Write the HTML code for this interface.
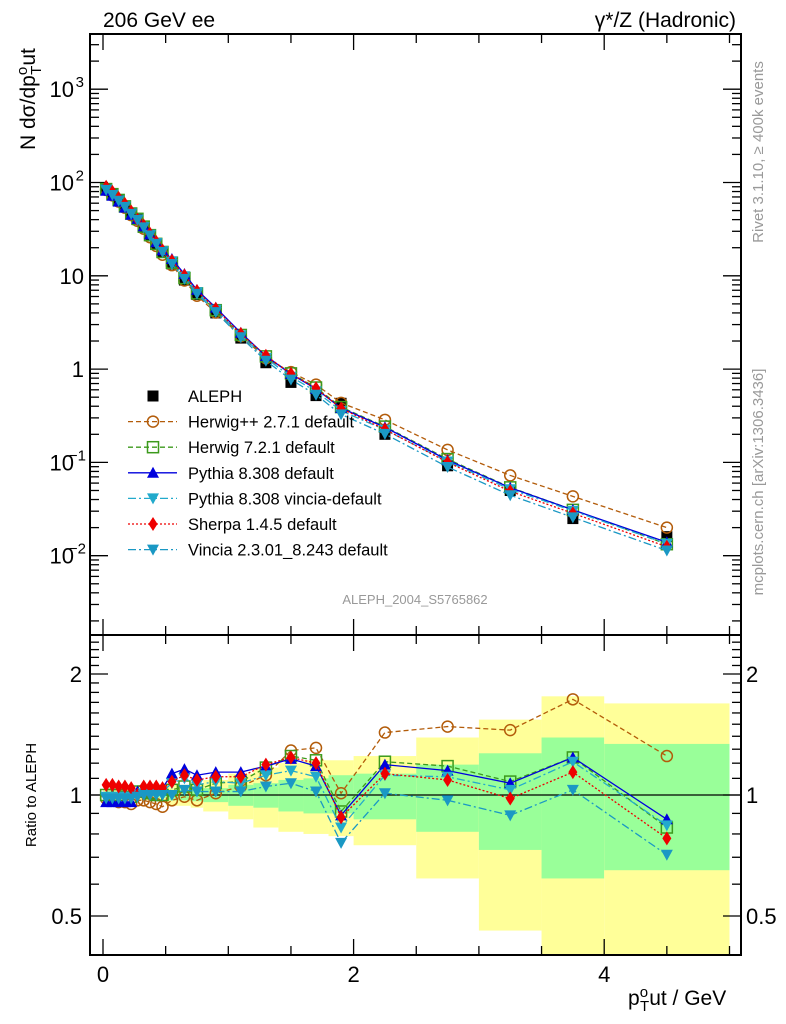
<!DOCTYPE html>
<html><head><meta charset="utf-8"><style>
body{margin:0;background:#fff;}
svg{display:block;font-family:"Liberation Sans",sans-serif;}
</style></head><body>
<svg id="c" width="786" height="1024" xmlns="http://www.w3.org/2000/svg"></svg>
<script>
const xs=[0.025,0.075,0.125,0.175,0.225,0.275,0.325,0.375,0.425,0.475,0.55,0.65,0.75,0.9,1.1,1.3,1.5,1.7,1.9,2.25,2.75,3.25,3.75,4.5];
const aleph=[85,75,65,56,47,40,33,27,22,18,13.4,9,6.3,4.0,2.15,1.17,0.72,0.52,0.43,0.2,0.092,0.05,0.025,0.016];
const rHerwigPP=[0.98,0.97,0.96,0.96,0.95,0.97,0.97,0.96,0.95,0.935,0.97,0.99,0.97,1.01,1.05,1.12,1.29,1.31,1.01,1.43,1.48,1.45,1.73,1.25];
const rHerwig7=[1.0,1.0,1.0,0.99,0.99,1.02,1.02,1.01,1.0,1.0,1.03,1.05,1.03,1.07,1.08,1.17,1.25,1.22,0.91,1.21,1.18,1.08,1.24,0.83];
const rPythia=[0.96,0.96,0.96,0.96,0.96,1.02,1.03,1.03,1.04,1.04,1.13,1.16,1.12,1.14,1.14,1.18,1.23,1.18,0.89,1.19,1.15,1.07,1.24,0.87];
const rPyVincia=[0.99,0.99,0.99,0.99,0.99,1.0,1.01,1.02,1.02,1.02,1.07,1.1,1.06,1.08,1.07,1.12,1.15,1.11,0.83,1.12,1.11,1.03,1.21,0.84];
const rSherpa=[1.06,1.06,1.05,1.05,1.04,1.0,1.05,1.05,1.05,1.04,1.08,1.12,1.09,1.11,1.11,1.19,1.24,1.2,0.88,1.13,1.09,0.98,1.14,0.78];
const rVincia=[0.98,0.98,0.98,0.98,0.98,0.99,1.0,1.0,1.0,1.0,1.0,1.03,1.02,1.02,1.02,1.05,1.07,1.02,0.76,1.01,0.97,0.89,1.03,0.71];
const binEdges=[0,0.5,0.6,0.7,0.8,1.0,1.2,1.4,1.6,1.8,2.0,2.5,3.0,3.5,4.0,5.0];
const yelLo=[0.97,0.94,0.94,0.93,0.91,0.87,0.83,0.81,0.80,0.79,0.75,0.62,0.46,0.3,0.3];
const yelHi=[1.03,1.06,1.06,1.07,1.09,1.13,1.17,1.2,1.22,1.22,1.25,1.39,1.54,1.76,1.69];
const grnLo=[0.985,0.97,0.97,0.965,0.96,0.94,0.93,0.91,0.9,0.9,0.87,0.81,0.73,0.62,0.65];
const grnHi=[1.015,1.03,1.03,1.035,1.04,1.06,1.07,1.09,1.1,1.12,1.13,1.19,1.27,1.39,1.34];
const legendLabels=["ALEPH","Herwig++ 2.7.1 default","Herwig 7.2.1 default","Pythia 8.308 default","Pythia 8.308 vincia-default","Sherpa 1.4.5 default","Vincia 2.3.01_8.243 default"];

const NS="http://www.w3.org/2000/svg",svg=document.getElementById('c');
function el(t,a,p){const e=document.createElementNS(NS,t);for(const k in a)e.setAttribute(k,a[k]);(p||svg).appendChild(e);return e;}
const L=90,R=741,T=34,M=635,B=955;
const X=v=>103+v*125.3;
const YM=v=>182.5-(Math.log10(v)-2)*93.3;
const YR=v=>795-Math.log2(v)*121;
for(let i=0;i<yelLo.length;i++){
 const x0=X(binEdges[i]),x1=X(binEdges[i+1]);
 const y=el('rect',{x:x0,y:YR(yelHi[i]),width:x1-x0,height:Math.min(B,YR(yelLo[i]))-YR(yelHi[i]),fill:'#ffff99'});
 
 
 const g=el('rect',{x:x0,y:YR(grnHi[i]),width:x1-x0,height:YR(grnLo[i])-YR(grnHi[i]),fill:'#99ff99'});
 
 
}
el('line',{x1:L,x2:R,y1:YR(1),y2:YR(1),stroke:'#000','stroke-width':1.3});
el('rect',{x:L,y:T,width:R-L,height:M-T,fill:'none',stroke:'#000','stroke-width':2});
el('rect',{x:L,y:M,width:R-L,height:B-M,fill:'none',stroke:'#000','stroke-width':2});
for(let v=0;v<=5.001;v+=0.5){
 const x=X(v),big=Math.abs(v-Math.round(v/2)*2)<1e-6;const h=big?16:9;
 [[T,1],[M,-1],[M,1],[B,-1]].forEach(([y,d])=>el('line',{x1:x,x2:x,y1:y,y2:y+d*h,stroke:'#000','stroke-width':1.3}));
}
['0','2','4'].forEach((t,i)=>{const e=el('text',{x:X(i*2),y:982,'font-size':22,'text-anchor':'middle'});e.textContent=t;
 });
for(let d=-3;d<=3;d++)for(let m=1;m<10;m++){const v=m*Math.pow(10,d);const y=YM(v);if(y<T||y>M)continue;const h=m==1?18:9;
 el('line',{x1:L,x2:L+h,y1:y,y2:y,stroke:'#000','stroke-width':1.3});el('line',{x1:R,x2:R-h,y1:y,y2:y,stroke:'#000','stroke-width':1.3});}
const ml=[[1000,'10','3'],[100,'10','2'],[10,'10',''],[1,'1',''],[0.1,'10','−1'],[0.01,'10','−2']];
ml.forEach(([v,b,s])=>{const e=el('text',{x:s?74:84,y:YM(v)+8,'font-size':22,'text-anchor':'end'});e.textContent=b;
 
 if(s){const t=el('text',{x:s.length>1?86:84,y:YM(v)-2,'font-size':15,'text-anchor':'end'});t.textContent=s;}});
[0.4,0.5,0.6,0.7,0.8,0.9,1,1.1,1.2,1.3,1.4,1.5,1.6,1.7,1.8,1.9,2,2.1,2.2,2.3,2.4,2.5].forEach(v=>{const y=YR(v);if(y<M||y>B)return;
 const big=[0.5,1,2].includes(v);const h=big?18:9;
 el('line',{x1:L,x2:L+h,y1:y,y2:y,stroke:'#000','stroke-width':1.3});el('line',{x1:R,x2:R-h,y1:y,y2:y,stroke:'#000','stroke-width':1.3});});
[[2,'2'],[1,'1'],[0.5,'0.5']].forEach(([v,t])=>{const e=el('text',{x:82,y:YR(v)+8,'font-size':22,'text-anchor':'end'});e.textContent=t;
 
 const f=el('text',{x:746,y:YR(v)+8,'font-size':22});f.textContent=t;});
function marker(kind,x,y,col,g){
 if(kind=='sq')return el('rect',{x:x-5.5,y:y-5.5,width:11,height:11,fill:'#000'},g);
 if(kind=='circ')return el('circle',{cx:x,cy:y,r:5.5,fill:'none',stroke:col,'stroke-width':1.5},g);
 if(kind=='osq')return el('rect',{x:x-5.5,y:y-5.5,width:11,height:11,fill:'none',stroke:col,'stroke-width':1.5},g);
 if(kind=='up')return el('polygon',{points:`${x-6},${y+5} ${x+6},${y+5} ${x},${y-6}`,fill:col},g);
 if(kind=='dn')return el('polygon',{points:`${x-6},${y-5} ${x+6},${y-5} ${x},${y+6}`,fill:col},g);
 if(kind=='dia')return el('polygon',{points:`${x},${y-7} ${x+4.5},${y} ${x},${y+7} ${x-4.5},${y}`,fill:col},g);
}
const ga=el('g',{});
xs.forEach((x,i)=>{const a=marker('sq',X(x),YM(aleph[i]),'#000',ga);});
const series=[
 {name:'herwigpp',r:rHerwigPP,col:'#b35c0a',dash:'5,3',m:'circ'},
 {name:'herwig7',r:rHerwig7,col:'#3c9a1c',dash:'5,3',m:'osq'},
 {name:'pythia',r:rPythia,col:'#0000dd',dash:'',m:'up'},
 {name:'pythia-vincia',r:rPyVincia,col:'#22aacc',dash:'8,3,2,3',m:'dn'},
 {name:'sherpa',r:rSherpa,col:'#ee0000',dash:'2,2',m:'dia'},
 {name:'vincia',r:rVincia,col:'#1a98c4',dash:'8,3,2,3',m:'dn'}];
series.forEach(s=>{
 const g=el('g',{});
 const pm=xs.map((x,i)=>X(x)+','+YM(aleph[i]*s.r[i])).join(' ');
 const pr=xs.map((x,i)=>X(x)+','+YR(s.r[i])).join(' ');
 el('polyline',{points:pm,fill:'none',stroke:s.col,'stroke-width':1.3,'stroke-dasharray':s.dash},g);
 el('polyline',{points:pr,fill:'none',stroke:s.col,'stroke-width':1.3,'stroke-dasharray':s.dash},g);
 xs.forEach((x,i)=>{const a=marker(s.m,X(x),YM(aleph[i]*s.r[i]),s.col,g);
  const b=marker(s.m,X(x),YR(s.r[i]),s.col,g);});
});
const lm=[['sq','#000',''],['circ','#b35c0a','5,3'],['osq','#3c9a1c','5,3'],['up','#0000dd',''],['dn','#22aacc','8,3,2,3'],['dia','#ee0000','2,2'],['dn','#1a98c4','8,3,2,3']];
legendLabels.forEach((t,i)=>{const y=396+i*25.6;const g=el('g',{});
 if(i>0)el('line',{x1:128,x2:177,y1:y,y2:y,stroke:lm[i][1],'stroke-width':1.3,'stroke-dasharray':lm[i][2]},g);
 marker(lm[i][0],153,y,lm[i][1],g);
 const e=el('text',{x:188,y:y+6,'font-size':16.5},g);e.textContent=t;});
function txt(s,a,name){const e=el('text',a);e.textContent=s;return e;}
txt('206 GeV ee',{x:103,y:27,'font-size':21},'plot-title');
txt('γ*/Z (Hadronic)',{x:736,y:27,'font-size':21,'text-anchor':'end'},'process-label');
txt('ALEPH_2004_S5765862',{x:415,y:604,'font-size':13,fill:'#999','text-anchor':'middle'},'analysis-label');
txt('Rivet 3.1.10, ≥ 400k events',{x:0,y:0,'font-size':15,fill:'#999','text-anchor':'middle',transform:'translate(763,152) rotate(-90)'},'rivet-label');
txt('mcplots.cern.ch [arXiv:1306.3436]',{x:0,y:0,'font-size':15,fill:'#999','text-anchor':'middle',transform:'translate(763,482) rotate(-90)'},'mcplots-label');
const yt=txt('',{x:0,y:0,'font-size':21,transform:'translate(35,150) rotate(-90)'},'y-axis-title');
yt.innerHTML='N dσ/dp<tspan font-size="15" dy="-8">o</tspan><tspan font-size="15" dx="-8" dy="14">T</tspan><tspan dy="-6">ut</tspan>';
txt('Ratio to ALEPH',{x:0,y:0,'font-size':15,'text-anchor':'middle',transform:'translate(36,795) rotate(-90)'},'ratio-axis-title');
const xt=txt('',{x:628,y:1005,'font-size':21},'x-axis-title');
xt.innerHTML='p<tspan font-size="15" dy="-8">o</tspan><tspan font-size="15" dx="-8" dy="14">T</tspan><tspan dy="-6">ut / GeV</tspan>';
</script>
</body></html>
